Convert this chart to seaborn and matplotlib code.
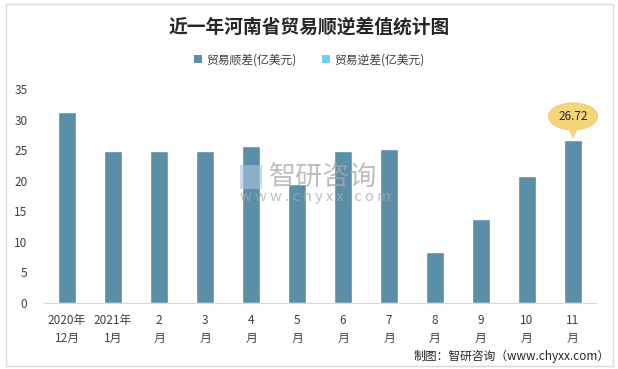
import matplotlib
matplotlib.use("Agg")
import matplotlib.pyplot as plt
from matplotlib.patches import Patch, Ellipse, Polygon, Rectangle
import seaborn as sns
import pandas as pd

months = ["2020年\n12月", "2021年\n1月", "2\n月", "3\n月", "4\n月", "5\n月",
          "6\n月", "7\n月", "8\n月", "9\n月", "10\n月", "11\n月"]
surplus = [31.3, 24.9, 24.9, 24.9, 25.7, 19.5, 24.9, 25.2, 8.4, 13.8, 20.8, 26.72]
series_names = ["贸易顺差(亿美元)", "贸易逆差(亿美元)"]
series_colors = ["#5B8FA8", "#6DCFF6"]

df = pd.DataFrame({"month": months, "value": surplus})

sns.set_style("white")
plt.rcParams["font.family"] = ["Noto Sans CJK SC", "DejaVu Sans"]

fig = plt.figure(figsize=(6.18, 3.69), dpi=100)
ax = fig.add_axes([0.0712, 0.1789, 0.8932, 0.5799])

sns.barplot(data=df, x="month", y="value", color=series_colors[0],
            width=0.41, saturation=1, ax=ax)

ax.set_ylim(0, 35)
ax.set_yticks(range(0, 36, 5))
ax.set_xlim(-0.5, len(months) - 0.5)
ax.set_xlabel("")
ax.set_ylabel("")
for s in ["top", "right", "left"]:
    ax.spines[s].set_visible(False)
ax.spines["bottom"].set_color("#D9D9D9")
ax.tick_params(axis="both", length=0, labelsize=8.5, colors="#404040")
ax.tick_params(axis="y", pad=12)
ax.tick_params(axis="x", pad=8)
for lbl in ax.get_xticklabels():
    lbl.set_linespacing(1.5)

# callout on last bar
last = len(surplus) - 1
cy = surplus[last] + 3.8
ax.add_patch(Ellipse((last, cy), 1.07, 4.4, facecolor="#F5D57A",
                     edgecolor="#E8C868", lw=0.6, clip_on=False, zorder=5))
ax.add_patch(Polygon([(last - 0.12, cy - 1.9), (last + 0.12, cy - 1.9),
                      (last, surplus[last] + 0.1)], closed=True,
                     facecolor="#F5D57A", edgecolor="none", clip_on=False, zorder=5))
ax.text(last, cy, f"{surplus[last]:.2f}", ha="center", va="center",
        fontsize=8.5, color="#262626", zorder=6)

# title and legend
fig.text(0.5, 0.927, "近一年河南省贸易顺逆差值统计图", ha="center", va="center",
         fontsize=13.5, fontweight="bold", color="#262626")
handles = [Patch(facecolor=c, edgecolor="none") for c in series_colors]
fig.legend(handles, series_names, loc="center", bbox_to_anchor=(0.5, 0.838),
           ncol=2, frameon=False, fontsize=8.5, handlelength=0.7, handleheight=0.7,
           handletextpad=0.3, columnspacing=2.2, labelcolor="#404040")

# watermark
fig.patches.append(Rectangle((0.389, 0.487), 0.035, 0.066, transform=fig.transFigure,
                             facecolor="#A9C4DA", edgecolor="none", alpha=0.6))
fig.text(0.435, 0.52, "智研咨询", ha="left", va="center", fontsize=19.5,
         color="#A8A8A8", alpha=0.75)
fig.text(0.389, 0.466, "w w w . c h y x x . c o m", ha="left", va="center",
         fontsize=10.5, color="#A8A8A8", alpha=0.75)

# source
fig.text(0.987, 0.035, "制图：智研咨询（www.chyxx.com）", ha="right", va="center",
         fontsize=8.5, color="#262626")

# outer frame
fig.patches.append(Rectangle((0.009, 0.008), 0.983, 0.98, transform=fig.transFigure,
                             facecolor="none", edgecolor="#D9D9D9", lw=1))

fig.savefig("out.png", dpi=100)
